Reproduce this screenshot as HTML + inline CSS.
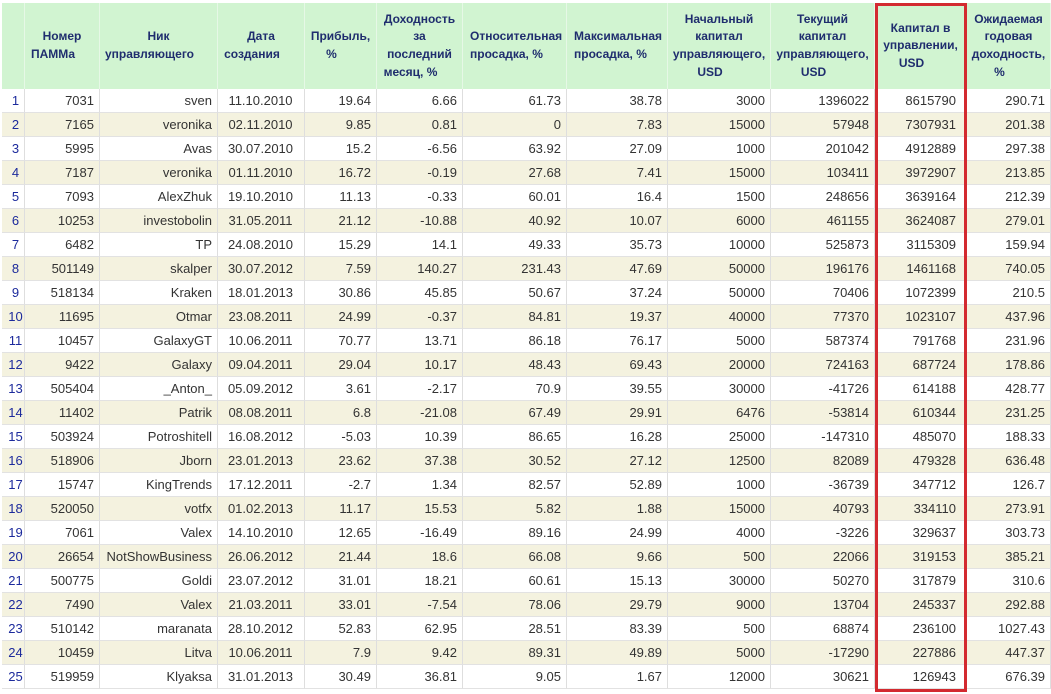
<!DOCTYPE html>
<html>
<head>
<meta charset="utf-8">
<style>
html,body{margin:0;padding:0;background:#fff;}
body{width:1051px;height:694px;position:relative;overflow:hidden;font-family:"Liberation Sans",Arial,sans-serif;}
#t{position:absolute;left:2px;top:3px;width:1049px;}
.r{display:flex;height:24px;}
.r>div{box-sizing:border-box;height:24px;line-height:23px;border-right:1px solid #dedede;border-bottom:1px solid #e2e2e2;font-size:13px;color:#333;text-align:right;padding-right:5px;white-space:nowrap;overflow:hidden;}
.r.b>div{background:#f4f2df;}
.r>div:nth-child(1){color:#1c2a9c;text-align:center;padding:0 0 0 5px;}
.r>div:nth-child(4){text-align:center;padding:0 1px 0 0;}
.r>div:nth-child(11){padding-right:10px;}
.h{display:flex;height:86px;}
.h>div{box-sizing:border-box;height:86px;background:#d1f4d1;border-right:1px solid #e6f8e6;display:flex;flex-direction:column;justify-content:center;align-items:center;font-size:12px;font-weight:bold;color:#1f2d6e;line-height:17.6px;}
.h>div>span{display:block;white-space:nowrap;}
.h>div>span.l{padding-right:18px;}
.w1{width:23px}.w2{width:75px}.w3{width:118px}.w4{width:87px}.w5{width:72px}.w6{width:86px}
.w7{width:104px}.w8{width:101px}.w9{width:103px}.w10{width:104px}.w11{width:92px}.w12{width:84px}
.lft{align-items:flex-start!important;padding-left:7px;}
.lft>span.l{padding-right:0!important;}
#red{position:absolute;left:875px;top:3px;width:92px;height:689px;box-sizing:border-box;border:3px solid #d32a30;}
</style>
</head>
<body>
<div id="t">
<div class="h">
<div class="w1"></div>
<div class="w2"><span>Номер</span><span class="l">ПАММа</span></div>
<div class="w3"><span>Ник</span><span class="l">управляющего</span></div>
<div class="w4"><span>Дата</span><span class="l">создания</span></div>
<div class="w5"><span>Прибыль,</span><span class="l">%</span></div>
<div class="w6"><span>Доходность</span><span>за</span><span>последний</span><span class="l">месяц, %</span></div>
<div class="w7 lft"><span>Относительная</span><span class="l">просадка, %</span></div>
<div class="w8 lft"><span>Максимальная</span><span class="l">просадка, %</span></div>
<div class="w9"><span>Начальный</span><span>капитал</span><span>управляющего,</span><span class="l">USD</span></div>
<div class="w10"><span>Текущий</span><span>капитал</span><span>управляющего,</span><span class="l">USD</span></div>
<div class="w11"><span>Капитал в</span><span>управлении,</span><span class="l">USD</span></div>
<div class="w12"><span>Ожидаемая</span><span>годовая</span><span>доходность,</span><span class="l">%</span></div>
</div>
<div class="r"><div class="w1">1</div><div class="w2">7031</div><div class="w3">sven</div><div class="w4">11.10.2010</div><div class="w5">19.64</div><div class="w6">6.66</div><div class="w7">61.73</div><div class="w8">38.78</div><div class="w9">3000</div><div class="w10">1396022</div><div class="w11">8615790</div><div class="w12">290.71</div></div>
<div class="r b"><div class="w1">2</div><div class="w2">7165</div><div class="w3">veronika</div><div class="w4">02.11.2010</div><div class="w5">9.85</div><div class="w6">0.81</div><div class="w7">0</div><div class="w8">7.83</div><div class="w9">15000</div><div class="w10">57948</div><div class="w11">7307931</div><div class="w12">201.38</div></div>
<div class="r"><div class="w1">3</div><div class="w2">5995</div><div class="w3">Avas</div><div class="w4">30.07.2010</div><div class="w5">15.2</div><div class="w6">-6.56</div><div class="w7">63.92</div><div class="w8">27.09</div><div class="w9">1000</div><div class="w10">201042</div><div class="w11">4912889</div><div class="w12">297.38</div></div>
<div class="r b"><div class="w1">4</div><div class="w2">7187</div><div class="w3">veronika</div><div class="w4">01.11.2010</div><div class="w5">16.72</div><div class="w6">-0.19</div><div class="w7">27.68</div><div class="w8">7.41</div><div class="w9">15000</div><div class="w10">103411</div><div class="w11">3972907</div><div class="w12">213.85</div></div>
<div class="r"><div class="w1">5</div><div class="w2">7093</div><div class="w3">AlexZhuk</div><div class="w4">19.10.2010</div><div class="w5">11.13</div><div class="w6">-0.33</div><div class="w7">60.01</div><div class="w8">16.4</div><div class="w9">1500</div><div class="w10">248656</div><div class="w11">3639164</div><div class="w12">212.39</div></div>
<div class="r b"><div class="w1">6</div><div class="w2">10253</div><div class="w3">investobolin</div><div class="w4">31.05.2011</div><div class="w5">21.12</div><div class="w6">-10.88</div><div class="w7">40.92</div><div class="w8">10.07</div><div class="w9">6000</div><div class="w10">461155</div><div class="w11">3624087</div><div class="w12">279.01</div></div>
<div class="r"><div class="w1">7</div><div class="w2">6482</div><div class="w3">TP</div><div class="w4">24.08.2010</div><div class="w5">15.29</div><div class="w6">14.1</div><div class="w7">49.33</div><div class="w8">35.73</div><div class="w9">10000</div><div class="w10">525873</div><div class="w11">3115309</div><div class="w12">159.94</div></div>
<div class="r b"><div class="w1">8</div><div class="w2">501149</div><div class="w3">skalper</div><div class="w4">30.07.2012</div><div class="w5">7.59</div><div class="w6">140.27</div><div class="w7">231.43</div><div class="w8">47.69</div><div class="w9">50000</div><div class="w10">196176</div><div class="w11">1461168</div><div class="w12">740.05</div></div>
<div class="r"><div class="w1">9</div><div class="w2">518134</div><div class="w3">Kraken</div><div class="w4">18.01.2013</div><div class="w5">30.86</div><div class="w6">45.85</div><div class="w7">50.67</div><div class="w8">37.24</div><div class="w9">50000</div><div class="w10">70406</div><div class="w11">1072399</div><div class="w12">210.5</div></div>
<div class="r b"><div class="w1">10</div><div class="w2">11695</div><div class="w3">Otmar</div><div class="w4">23.08.2011</div><div class="w5">24.99</div><div class="w6">-0.37</div><div class="w7">84.81</div><div class="w8">19.37</div><div class="w9">40000</div><div class="w10">77370</div><div class="w11">1023107</div><div class="w12">437.96</div></div>
<div class="r"><div class="w1">11</div><div class="w2">10457</div><div class="w3">GalaxyGT</div><div class="w4">10.06.2011</div><div class="w5">70.77</div><div class="w6">13.71</div><div class="w7">86.18</div><div class="w8">76.17</div><div class="w9">5000</div><div class="w10">587374</div><div class="w11">791768</div><div class="w12">231.96</div></div>
<div class="r b"><div class="w1">12</div><div class="w2">9422</div><div class="w3">Galaxy</div><div class="w4">09.04.2011</div><div class="w5">29.04</div><div class="w6">10.17</div><div class="w7">48.43</div><div class="w8">69.43</div><div class="w9">20000</div><div class="w10">724163</div><div class="w11">687724</div><div class="w12">178.86</div></div>
<div class="r"><div class="w1">13</div><div class="w2">505404</div><div class="w3">_Anton_</div><div class="w4">05.09.2012</div><div class="w5">3.61</div><div class="w6">-2.17</div><div class="w7">70.9</div><div class="w8">39.55</div><div class="w9">30000</div><div class="w10">-41726</div><div class="w11">614188</div><div class="w12">428.77</div></div>
<div class="r b"><div class="w1">14</div><div class="w2">11402</div><div class="w3">Patrik</div><div class="w4">08.08.2011</div><div class="w5">6.8</div><div class="w6">-21.08</div><div class="w7">67.49</div><div class="w8">29.91</div><div class="w9">6476</div><div class="w10">-53814</div><div class="w11">610344</div><div class="w12">231.25</div></div>
<div class="r"><div class="w1">15</div><div class="w2">503924</div><div class="w3">Potroshitell</div><div class="w4">16.08.2012</div><div class="w5">-5.03</div><div class="w6">10.39</div><div class="w7">86.65</div><div class="w8">16.28</div><div class="w9">25000</div><div class="w10">-147310</div><div class="w11">485070</div><div class="w12">188.33</div></div>
<div class="r b"><div class="w1">16</div><div class="w2">518906</div><div class="w3">Jborn</div><div class="w4">23.01.2013</div><div class="w5">23.62</div><div class="w6">37.38</div><div class="w7">30.52</div><div class="w8">27.12</div><div class="w9">12500</div><div class="w10">82089</div><div class="w11">479328</div><div class="w12">636.48</div></div>
<div class="r"><div class="w1">17</div><div class="w2">15747</div><div class="w3">KingTrends</div><div class="w4">17.12.2011</div><div class="w5">-2.7</div><div class="w6">1.34</div><div class="w7">82.57</div><div class="w8">52.89</div><div class="w9">1000</div><div class="w10">-36739</div><div class="w11">347712</div><div class="w12">126.7</div></div>
<div class="r b"><div class="w1">18</div><div class="w2">520050</div><div class="w3">votfx</div><div class="w4">01.02.2013</div><div class="w5">11.17</div><div class="w6">15.53</div><div class="w7">5.82</div><div class="w8">1.88</div><div class="w9">15000</div><div class="w10">40793</div><div class="w11">334110</div><div class="w12">273.91</div></div>
<div class="r"><div class="w1">19</div><div class="w2">7061</div><div class="w3">Valex</div><div class="w4">14.10.2010</div><div class="w5">12.65</div><div class="w6">-16.49</div><div class="w7">89.16</div><div class="w8">24.99</div><div class="w9">4000</div><div class="w10">-3226</div><div class="w11">329637</div><div class="w12">303.73</div></div>
<div class="r b"><div class="w1">20</div><div class="w2">26654</div><div class="w3">NotShowBusiness</div><div class="w4">26.06.2012</div><div class="w5">21.44</div><div class="w6">18.6</div><div class="w7">66.08</div><div class="w8">9.66</div><div class="w9">500</div><div class="w10">22066</div><div class="w11">319153</div><div class="w12">385.21</div></div>
<div class="r"><div class="w1">21</div><div class="w2">500775</div><div class="w3">Goldi</div><div class="w4">23.07.2012</div><div class="w5">31.01</div><div class="w6">18.21</div><div class="w7">60.61</div><div class="w8">15.13</div><div class="w9">30000</div><div class="w10">50270</div><div class="w11">317879</div><div class="w12">310.6</div></div>
<div class="r b"><div class="w1">22</div><div class="w2">7490</div><div class="w3">Valex</div><div class="w4">21.03.2011</div><div class="w5">33.01</div><div class="w6">-7.54</div><div class="w7">78.06</div><div class="w8">29.79</div><div class="w9">9000</div><div class="w10">13704</div><div class="w11">245337</div><div class="w12">292.88</div></div>
<div class="r"><div class="w1">23</div><div class="w2">510142</div><div class="w3">maranata</div><div class="w4">28.10.2012</div><div class="w5">52.83</div><div class="w6">62.95</div><div class="w7">28.51</div><div class="w8">83.39</div><div class="w9">500</div><div class="w10">68874</div><div class="w11">236100</div><div class="w12">1027.43</div></div>
<div class="r b"><div class="w1">24</div><div class="w2">10459</div><div class="w3">Litva</div><div class="w4">10.06.2011</div><div class="w5">7.9</div><div class="w6">9.42</div><div class="w7">89.31</div><div class="w8">49.89</div><div class="w9">5000</div><div class="w10">-17290</div><div class="w11">227886</div><div class="w12">447.37</div></div>
<div class="r"><div class="w1">25</div><div class="w2">519959</div><div class="w3">Klyaksa</div><div class="w4">31.01.2013</div><div class="w5">30.49</div><div class="w6">36.81</div><div class="w7">9.05</div><div class="w8">1.67</div><div class="w9">12000</div><div class="w10">30621</div><div class="w11">126943</div><div class="w12">676.39</div></div>
</div>
<div id="red"></div>
</body>
</html>
